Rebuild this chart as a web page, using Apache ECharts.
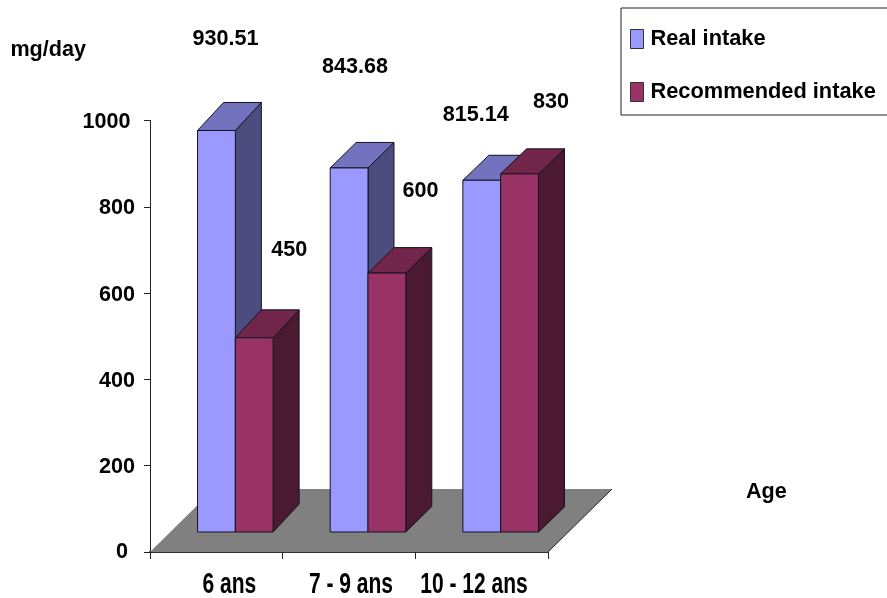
<!DOCTYPE html>
<html>
<head>
<meta charset="utf-8">
<style>html,body{margin:0;padding:0;background:#fff;overflow:hidden}#chart{width:887px;height:598px}</style>
<script src="https://cdn.jsdelivr.net/npm/echarts@6/dist/echarts.min.js"></script>
</head>
<body>
<div id="chart"></div>
<script>
// Daily intake by age group, mg/day
const categories = ['6 ans', '7 - 9 ans', '10 - 12 ans'];
const realIntake = [930.51, 843.68, 815.14];
const recommendedIntake = [450, 600, 830];
const yTicks = { min: 0, max: 1000, interval: 200 };

// Pseudo-3D projection, in pixels
const FLOOR_DX = 64, FLOOR_DY = 63;
const BAR_INSET_DX = 19, BAR_INSET_DY = 20;
const BAR_WIDTH = 37.8, BAR_DEPTH_DX = 26;
const BAR_DEPTH_DY = [28, 25.5, 25];

// Value label displacement from the bar's front top centre, per age group
const realLabelShift = [[9, -91.5], [6, -101], [-6, -65]];
const recommendedLabelShift = [[35, -88], [33.5, -82], [31.5, -72]];

// Category labels are set in a tall condensed cut of the bold face
const categoryLabelShift = [13, 2, -7.7];
const CATEGORY_LABEL_DROP = 33, CATEGORY_LABEL_SIZE = 30, CATEGORY_LABEL_SCALE_X = 0.7;

const FONT = '"Liberation Sans", Arial, sans-serif';
const TEXT_SIZE = 21.6;
const EDGE = '#14141f';

const face = (pts, fill) => ({
  type: 'polygon',
  shape: { points: pts },
  style: { fill, stroke: EDGE, lineWidth: 1 }
});

function barRenderer(slot, colors, shifts) {
  return function (params, api) {
    const i = api.value(0), v = api.value(1);
    const top = api.coord([i, v]), base = api.coord([i, 0]);
    const w = BAR_WIDTH, dx = BAR_DEPTH_DX, dy = BAR_DEPTH_DY[i];
    const x0 = top[0] + BAR_INSET_DX + (slot === 0 ? -w : 0);
    const x1 = x0 + w;
    const yT = top[1] - BAR_INSET_DY, yB = base[1] - BAR_INSET_DY;
    return {
      type: 'group',
      children: [
        face([[x1, yT], [x1 + dx, yT - dy], [x1 + dx, yB - dy], [x1, yB]], colors.side),
        face([[x0, yT], [x0 + dx, yT - dy], [x1 + dx, yT - dy], [x1, yT]], colors.top),
        face([[x0, yT], [x1, yT], [x1, yB], [x0, yB]], colors.front),
        {
          type: 'text',
          x: (x0 + x1) / 2 + shifts[i][0],
          y: yT + shifts[i][1],
          style: {
            text: String(v), fill: '#000', fontFamily: FONT, fontWeight: 'bold',
            fontSize: TEXT_SIZE, align: 'center', verticalAlign: 'middle'
          }
        }
      ]
    };
  };
}

function floorRenderer(params, api) {
  const band = api.size([1, 0])[0];
  const a = api.coord([0, 0]), b = api.coord([categories.length - 1, 0]);
  const xL = a[0] - band / 2, xR = b[0] + band / 2, y = a[1];
  return {
    type: 'group',
    children: [
      {
        type: 'polygon',
        shape: { points: [[xL, y], [xR, y], [xR + FLOOR_DX, y - FLOOR_DY], [xL + FLOOR_DX, y - FLOOR_DY]] },
        style: { fill: '#808080' }
      },
      {
        type: 'line',
        shape: { x1: xR, y1: y, x2: xR + FLOOR_DX, y2: y - FLOOR_DY },
        style: { stroke: '#222', lineWidth: 1 }
      }
    ]
  };
}

function categoryLabelRenderer(params, api) {
  const i = api.value(0);
  const p = api.coord([i, 0]);
  return {
    type: 'text',
    x: p[0] + categoryLabelShift[i],
    y: p[1] + CATEGORY_LABEL_DROP,
    scaleX: CATEGORY_LABEL_SCALE_X,
    style: {
      text: categories[i], fill: '#000', fontFamily: FONT, fontWeight: 'bold',
      fontSize: CATEGORY_LABEL_SIZE, align: 'center', verticalAlign: 'middle'
    }
  };
}

const blue = { front: '#9999FF', side: '#4C4C7F', top: '#7272BF' };
const maroon = { front: '#993366', side: '#4C1933', top: '#72264C' };
const pairs = arr => arr.map((v, i) => [i, v]);
const yLabelBase = { fontFamily: FONT, fontWeight: 'bold', fontSize: TEXT_SIZE, color: '#000' };

const chart = echarts.init(document.getElementById('chart'), null, { renderer: 'canvas' });
chart.setOption({
  animation: false,
  backgroundColor: '#fff',
  grid: { left: 150, right: 339, top: 120.5, bottom: 46, containLabel: false, outerBoundsMode: 'none' },
  legend: {
    left: 621, top: 8,
    orient: 'vertical',
    data: ['Real intake', 'Recommended intake'],
    icon: 'rect',
    itemWidth: 13, itemHeight: 19, itemGap: 31,
    padding: [20, 40, 12, 9],
    borderColor: '#222', borderWidth: 1, backgroundColor: '#fff',
    itemStyle: { borderColor: '#333', borderWidth: 1 },
    textStyle: { fontFamily: FONT, fontWeight: 'bold', fontSize: 21.8, color: '#000', padding: [0, 0, 0, 2] }
  },
  xAxis: {
    type: 'category',
    data: categories,
    name: 'Age',
    nameLocation: 'end',
    nameGap: 198,
    nameTextStyle: { fontFamily: FONT, fontWeight: 'bold', fontSize: TEXT_SIZE, color: '#000', verticalAlign: 'bottom', padding: [0, 0, 49, 0] },
    axisLine: { show: true, lineStyle: { color: '#333', width: 2 } },
    axisTick: { show: true, length: 7, lineStyle: { color: '#222' } },
    axisLabel: { show: false }
  },
  yAxis: {
    type: 'value',
    min: yTicks.min, max: yTicks.max, interval: yTicks.interval,
    name: 'mg/day',
    nameLocation: 'end',
    nameGap: 59,
    nameTextStyle: { fontFamily: FONT, fontWeight: 'bold', fontSize: TEXT_SIZE, color: '#000', align: 'right', padding: [0, 64, 0, 0] },
    axisLine: { show: true, lineStyle: { color: '#222', width: 1 } },
    axisTick: { show: true, length: 6, lineStyle: { color: '#222' } },
    axisLabel: {
      margin: 15,
      formatter: v => `{${v === 1000 ? 'top' : v === 0 ? 'zero' : 'mid'}|${v}}`,
      rich: {
        top: { ...yLabelBase, padding: [4, 4.5, 0, 0] },
        mid: { ...yLabelBase, padding: [3, 0, 0, 0] },
        zero: { ...yLabelBase, padding: [0, 7, 0, 0] }
      }
    },
    splitLine: { show: false }
  },
  series: [
    { type: 'custom', name: 'floor', silent: true, z: 1, data: [[0, 0]], encode: { x: 0, y: 1 }, renderItem: floorRenderer },
    {
      type: 'custom', name: 'Real intake', z: 2, data: pairs(realIntake), encode: { x: 0, y: 1 },
      itemStyle: { color: blue.front },
      renderItem: barRenderer(0, blue, realLabelShift)
    },
    {
      type: 'custom', name: 'Recommended intake', z: 3, data: pairs(recommendedIntake), encode: { x: 0, y: 1 },
      itemStyle: { color: maroon.front },
      renderItem: barRenderer(1, maroon, recommendedLabelShift)
    },
    {
      type: 'custom', name: 'category labels', silent: true, z: 4,
      data: categories.map((c, i) => [i, 0]), encode: { x: 0, y: 1 },
      renderItem: categoryLabelRenderer
    }
  ]
});
</script>
</body>
</html>
